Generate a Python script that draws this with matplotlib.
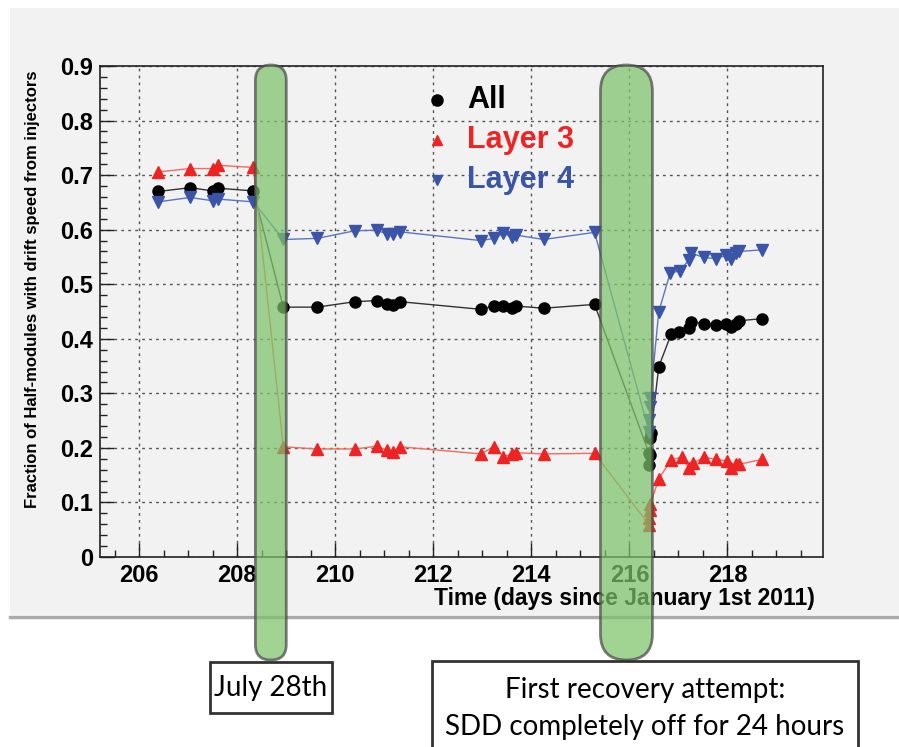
import matplotlib
matplotlib.use("Agg")
import matplotlib.pyplot as plt
from matplotlib import font_manager
from matplotlib.patches import FancyBboxPatch, Rectangle
from matplotlib.lines import Line2D
from matplotlib.ticker import MultipleLocator

# --- data ---
t_all = [206.39, 207.04, 207.50, 207.61, 208.33, 208.94, 209.63, 210.40, 210.85, 211.05,
         211.17, 211.32, 212.97, 213.23, 213.43, 213.60, 213.69, 214.25, 215.29, 216.40,
         216.41, 216.42, 216.43, 216.44, 216.60, 216.85, 217.02, 217.21, 217.26, 217.52,
         217.77, 217.97, 218.07, 218.18, 218.24, 218.71]
frac_all = [0.670, 0.677, 0.671, 0.676, 0.671, 0.458, 0.458, 0.468, 0.470, 0.464,
            0.462, 0.468, 0.454, 0.460, 0.460, 0.457, 0.460, 0.456, 0.463, 0.190,
            0.169, 0.187, 0.218, 0.227, 0.349, 0.408, 0.412, 0.419, 0.431, 0.428,
            0.426, 0.428, 0.422, 0.427, 0.433, 0.437]

t_l3 = [206.39, 207.04, 207.50, 207.61, 208.33, 208.94, 209.63, 210.40, 210.85, 211.05,
        211.17, 211.32, 212.97, 213.23, 213.43, 213.60, 213.69, 214.25, 215.29, 216.40,
        216.41, 216.42, 216.43, 216.60, 216.85, 217.07, 217.22, 217.29, 217.53, 217.77,
        217.99, 218.07, 218.18, 218.24, 218.71]
frac_l3 = [0.706, 0.712, 0.712, 0.718, 0.714, 0.202, 0.198, 0.198, 0.203, 0.196,
           0.192, 0.202, 0.189, 0.202, 0.184, 0.189, 0.191, 0.189, 0.190, 0.059,
           0.072, 0.086, 0.098, 0.143, 0.178, 0.183, 0.163, 0.172, 0.183, 0.179,
           0.176, 0.163, 0.171, 0.170, 0.179]

t_l4 = [206.39, 207.04, 207.50, 207.61, 208.33, 208.94, 209.63, 210.40, 210.85, 211.05,
        211.17, 211.32, 212.97, 213.23, 213.43, 213.60, 213.69, 214.25, 215.29, 216.40,
        216.41, 216.42, 216.43, 216.60, 216.83, 217.03, 217.21, 217.26, 217.52, 217.77,
        217.97, 218.07, 218.18, 218.24, 218.71]
frac_l4 = [0.651, 0.659, 0.653, 0.656, 0.651, 0.582, 0.584, 0.598, 0.599, 0.592,
           0.592, 0.596, 0.580, 0.584, 0.593, 0.587, 0.590, 0.582, 0.595, 0.230,
           0.252, 0.275, 0.292, 0.450, 0.520, 0.525, 0.544, 0.557, 0.549, 0.547,
           0.553, 0.546, 0.557, 0.560, 0.563]

# highlighted periods (days) and their captions
periods = [(208.37, 209.00), (215.41, 216.47)]
period_labels = [["July 28th"],
                 ["First recovery attempt:", "SDD completely off for 24 hours"]]

# pick a Helvetica-like face that is really installed
names = {f.name for f in font_manager.fontManager.ttflist}
SANS = next((n for n in ["Liberation Sans", "Arimo", "Arial", "Helvetica", "DejaVu Sans"]
             if n in names), "DejaVu Sans")

W, H, DPI = 899, 747, 100
fig = plt.figure(figsize=(W / DPI, H / DPI), dpi=DPI, facecolor="white")

# grey canvas panel + shadow line
fig.patches.append(Rectangle((10 / W, 1 - 615 / H), 1 - 10 / W, (615 - 8) / H,
                             transform=fig.transFigure, facecolor="#f2f2f2",
                             edgecolor="none", zorder=-5))
fig.lines.append(Line2D([10 / W, 1], [1 - 616.5 / H] * 2, transform=fig.transFigure,
                        color="#aaaaaa", lw=2.5, zorder=-4))

ax = fig.add_axes([100 / W, 1 - 557 / H, (823 - 100) / W, (557 - 66) / H])
ax.set_facecolor("#f2f2f2")
ax.set_xlim(205.2, 219.95)
ax.set_ylim(0, 0.9)

ax.plot(t_all, frac_all, "-", color="#333333", lw=1.0, marker="o", ms=8,
        mfc="black", mec="black", zorder=3)
ax.plot(t_l3, frac_l3, "-", color="#f26b5e", lw=1.0, marker="^", ms=8.5,
        mfc="#ee2424", mec="#ee2424", zorder=3)
ax.plot(t_l4, frac_l4, "-", color="#5a76c0", lw=1.0, marker="v", ms=8.5,
        mfc="#3a55a8", mec="#3a55a8", zorder=3)

ax.xaxis.set_major_locator(MultipleLocator(2))
ax.xaxis.set_minor_locator(MultipleLocator(0.5))
ax.yaxis.set_major_locator(MultipleLocator(0.1))
ax.yaxis.set_minor_locator(MultipleLocator(0.02))
ax.yaxis.set_major_formatter(plt.FuncFormatter(lambda v, p: "0" if abs(v) < 1e-9 else f"{v:.1f}"))
ax.grid(True, which="major", color="#555555", ls=(0, (2, 3)), lw=1.0)
ax.tick_params(which="both", direction="in", top=False, right=False, color="#222222")
ax.tick_params(which="major", length=10, width=1)
ax.tick_params(which="minor", length=5, width=1)
ax.tick_params(axis="both", labelsize=17, pad=5)
for lab in ax.get_xticklabels() + ax.get_yticklabels():
    lab.set_fontfamily(SANS)
    lab.set_fontweight("bold")
for sp in ax.spines.values():
    sp.set_color("#222222")
    sp.set_linewidth(1.2)

ax.set_ylabel("Fraction of Half-modules with drift speed from injectors",
              family=SANS, weight="bold", fontsize=12)
ax.yaxis.set_label_coords(-0.083, 0.545)
ax.set_xlabel("Time (days since January 1st 2011)", family=SANS,
              weight="bold", fontsize=16.5, ha="right")
ax.xaxis.set_label_coords(0.989, -0.061)

# legend, drawn by hand like the ROOT one
leg = [("All", "o", "black", 0.931), ("Layer 3", "^", "#ee2424", 0.849),
       ("Layer 4", "v", "#3a55a8", 0.768)]
for name, mk, col, yy in leg:
    ax.plot([0.466], [yy], marker=mk, color=col, ms=6.5 if mk != "o" else 8,
            transform=ax.transAxes, clip_on=False, zorder=4)
    ax.text(0.508, yy, name, transform=ax.transAxes, color=col, fontsize=22,
            family=SANS, weight="bold", va="center", ha="left")

# green highlighted bands (rounded), in pixel space via inches
top_px, bot_px = 65, 660
for (x0, x1) in periods:
    px0 = ax.transData.transform((x0, 0))[0]
    px1 = ax.transData.transform((x1, 0))[0]
    w = px1 - px0
    r = w / 2.0
    band = FancyBboxPatch((px0 / DPI, (H - bot_px) / DPI), w / DPI, (bot_px - top_px) / DPI,
                          boxstyle=f"round,pad=0,rounding_size={r / DPI}",
                          transform=fig.dpi_scale_trans, facecolor="#7dc36a",
                          alpha=0.72, edgecolor="#4a4a4a", lw=2, zorder=5)
    fig.patches.append(band)

# caption boxes under the bands
boxes = [(210, 662, 332, 713), (432, 661, 858, 752)]
line_y = [[688], [690, 727]]
for (bx0, by0, bx1, by1), lines, ys in zip(boxes, period_labels, line_y):
    fig.patches.append(Rectangle((bx0 / W, 1 - by1 / H), (bx1 - bx0) / W, (by1 - by0) / H,
                                 transform=fig.transFigure, facecolor="white",
                                 edgecolor="#333333", lw=2, zorder=6))
    for txt, yp in zip(lines, ys):
        fig.text((bx0 + bx1) / 2 / W, 1 - yp / H, txt, ha="center", va="center",
                 fontsize=20, family="Lato", zorder=7)

fig.savefig("out.png", dpi=DPI)
